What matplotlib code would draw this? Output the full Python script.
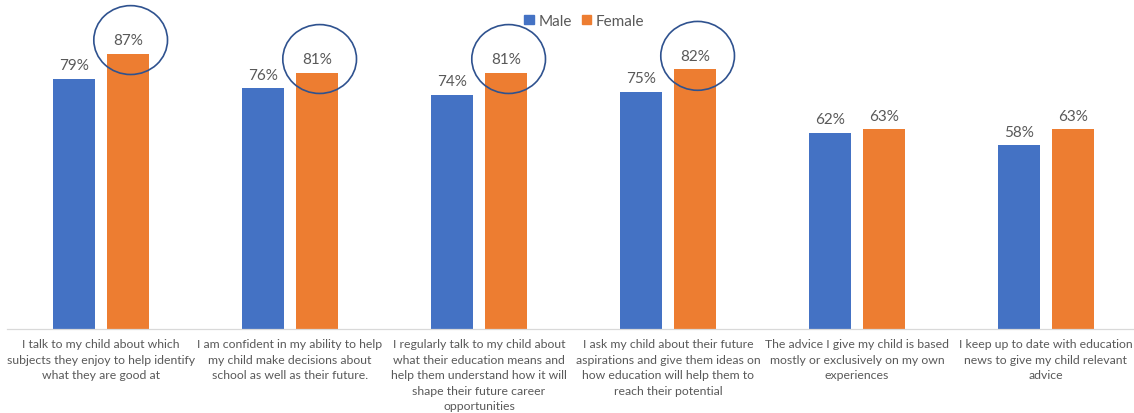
import matplotlib
matplotlib.use('Agg')
import matplotlib.pyplot as plt
from matplotlib.patches import Ellipse, Patch
import numpy as np

categories = [
    'I talk to my child about which\nsubjects they enjoy to help identify\nwhat they are good at',
    'I am confident in my ability to help\nmy child make decisions about\nschool as well as their future.',
    'I regularly talk to my child about\nwhat their education means and\nhelp them understand how it will\nshape their future career\nopportunities',
    'I ask my child about their future\naspirations and give them ideas on\nhow education will help them to\nreach their potential',
    'The advice I give my child is based\nmostly or exclusively on my own\nexperiences',
    'I keep up to date with education\nnews to give my child relevant\nadvice',
]
male = [79, 76, 74, 75, 62, 58]
female = [87, 81, 81, 82, 63, 63]
circled = [0, 1, 2, 3]  # statements where the female score is ringed

BLUE = '#4472C4'
ORANGE = '#ED7D31'
GREY_TEXT = '#595959'
RING = '#2F528F'

plt.rcParams['font.family'] = ['Lato', 'DejaVu Sans']

fig = plt.figure(figsize=(11.34, 4.14), dpi=100)
ax = fig.add_axes([6.5 / 1134, 1 - 329.5 / 414, 1 - 6.5 / 1134, 329.5 / 414])

x = np.arange(len(categories))
w = 0.222
off = 0.142
b1 = ax.bar(x - off, male, w, color=BLUE, label='Male')
b2 = ax.bar(x + off, female, w, color=ORANGE, label='Female')

for bars, vals in ((b1, male), (b2, female)):
    for rect, v in zip(bars, vals):
        ax.annotate(f'{v}%', (rect.get_x() + rect.get_width() / 2, v),
                    xytext=(0, 7), textcoords='offset points',
                    ha='center', va='baseline', fontsize=11, color=GREY_TEXT)

for i in circled:
    ax.add_patch(Ellipse((x[i] + off + 0.015, female[i] + 4.3), 0.39, 21.8,
                         fill=False, edgecolor=RING, linewidth=1.2, clip_on=False))

ax.set_xlim(-0.5, 5.466)
ax.set_ylim(0, 104.3)
ax.set_xticks(x)
ax.set_xticklabels(categories, fontsize=8.8, color=GREY_TEXT, linespacing=1.5)
ax.tick_params(axis='x', length=0, pad=7)
ax.set_yticks([])
for s in ('top', 'right', 'left'):
    ax.spines[s].set_visible(False)
ax.spines['bottom'].set_color('#D9D9D9')
ax.spines['bottom'].set_linewidth(0.9)

handles = [Patch(color=BLUE, label='Male'), Patch(color=ORANGE, label='Female')]
fig.legend(handles=handles, loc='center', bbox_to_anchor=(0.5154, 0.947),
           ncol=2, frameon=False, fontsize=11, labelcolor=GREY_TEXT,
           handlelength=0.6, handleheight=0.6, handletextpad=0.3,
           columnspacing=0.7, borderpad=0)

fig.savefig('out.png', dpi=100)
